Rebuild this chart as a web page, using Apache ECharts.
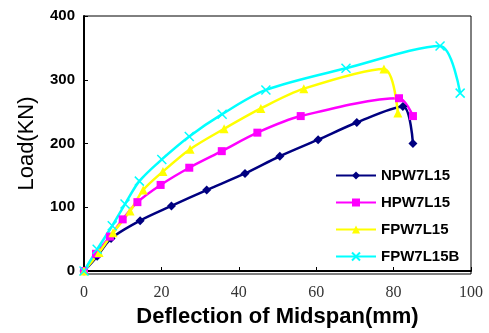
<!DOCTYPE html>
<html>
<head>
<meta charset="utf-8">
<script src="https://cdn.jsdelivr.net/npm/echarts@6/dist/echarts.min.js"></script>
<style>
  html, body { margin: 0; padding: 0; background: #fff; }
  #chart { width: 489px; height: 333px; }
</style>
</head>
<body>
<div id="chart"></div>
<script>
// deflection (mm), load (kN)
var npw7l15 = [[0, 0], [3.4, 23], [7, 51], [14.5, 79], [22.6, 102], [31.7, 127], [41.6, 153],
    [50.6, 180], [60.5, 206], [70.5, 233], [82.4, 258], [85, 200]];
var hpw7l15 = [[0, 0], [3.1, 27], [6.7, 54], [10, 81], [13.8, 108], [19.8, 135], [27.2, 162],
    [35.6, 188], [44.8, 217], [56, 243], [81.4, 271], [85, 243]];
var fpw7l15 = [[0, 0], [3.9, 29], [7.5, 60], [11.9, 94], [15.3, 127], [20.4, 156], [27.4, 191],
    [36.2, 223], [45.7, 255], [56.8, 286], [77.5, 317], [81.1, 248]];
var fpw7l15b = [[0, 0], [3.4, 34], [7.3, 71], [10.6, 105], [14.3, 141], [20.1, 175], [27.2, 211],
    [35.7, 246], [47, 284], [67.7, 318], [92, 353], [97.2, 279]];
var seriesNames = ['NPW7L15', 'HPW7L15', 'FPW7L15', 'FPW7L15B'];
var xTicks = [0, 20, 40, 60, 80, 100];
var yTicks = [0, 100, 200, 300, 400];

var dom = document.getElementById('chart');
var myChart = echarts.init(dom, null, { renderer: 'canvas' });

var crossPath = 'path://M0,0L10,10M10,0L0,10';

function makeSeries(name, data, color, symbol, size) {
    return {
        name: name,
        type: 'line',
        data: data,
        smooth: 0.3,
        symbol: symbol,
        symbolSize: size,
        showAllSymbol: true,
        lineStyle: { color: color, width: 2.5 },
        itemStyle: { color: color, borderColor: color, borderWidth: symbol === crossPath ? 1.5 : 0 }
    };
}

var option = {
    animation: false,
    backgroundColor: '#fff',
    grid: { left: 84, right: 18, top: 16, bottom: 59 },
    legend: {
        orient: 'vertical',
        left: 330,
        top: 163,
        itemWidth: 40,
        itemHeight: 10,
        itemGap: 12,
        textStyle: { fontFamily: 'Liberation Sans', fontWeight: 'bold', fontSize: 15, color: '#000' },
        data: seriesNames
    },
    xAxis: {
        type: 'value',
        min: 0,
        max: 100,
        interval: 20,
        name: 'Deflection of Midspan(mm)',
        nameLocation: 'middle',
        nameGap: 35,
        nameTextStyle: { fontFamily: 'Liberation Sans', fontWeight: 'bold', fontSize: 22, color: '#000' },
        axisLine: { show: true, lineStyle: { color: '#000', width: 2 } },
        axisTick: { show: true, inside: true, length: 4, lineStyle: { color: '#000', width: 1 } },
        axisLabel: {
            fontFamily: 'Liberation Serif', fontSize: 16, color: '#333', margin: 14,
            formatter: function (v) { return xTicks.indexOf(v) >= 0 ? String(v) : ''; }
        },
        splitLine: { show: false }
    },
    yAxis: {
        type: 'value',
        min: 0,
        max: 400,
        interval: 100,
        name: 'Load(KN)',
        nameLocation: 'middle',
        nameGap: 46,
        nameTextStyle: { fontFamily: 'Liberation Sans', fontSize: 22, color: '#000' },
        axisLine: { show: true, lineStyle: { color: '#000', width: 2 } },
        axisTick: { show: true, inside: true, length: 4, lineStyle: { color: '#000', width: 1 } },
        axisLabel: {
            fontFamily: 'Liberation Sans', fontWeight: 'bold', fontSize: 15, color: '#000', margin: 9,
            formatter: function (v) { return yTicks.indexOf(v) >= 0 ? String(v) : ''; }
        },
        splitLine: { show: false }
    },
    graphic: [{
        type: 'rect',
        shape: { x: 84, y: 16, width: 387, height: 258 },
        style: { fill: 'none', stroke: '#000', lineWidth: 1 },
        silent: true,
        z: -1
    }],
    series: [
        makeSeries(seriesNames[0], npw7l15, '#000080', 'diamond', 9),
        makeSeries(seriesNames[1], hpw7l15, '#FF00FF', 'rect', 8),
        makeSeries(seriesNames[2], fpw7l15, '#FFFF00', 'triangle', 9),
        makeSeries(seriesNames[3], fpw7l15b, '#00FFFF', crossPath, 9)
    ]
};

myChart.setOption(option);
window.addEventListener('resize', myChart.resize);
</script>
</body>
</html>
